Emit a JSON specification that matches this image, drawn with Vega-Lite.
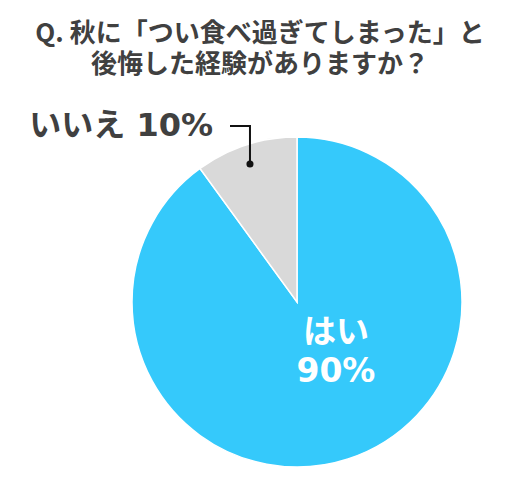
{
  "$schema": "https://vega.github.io/schema/vega-lite/v6.json",
  "width": 330,
  "height": 330,
  "autosize": "none",
  "padding": {"left": 132, "top": 137, "right": 55, "bottom": 10},
  "background": "white",
  "config": {"view": {"stroke": null}, "font": "Noto Sans CJK JP"},
  "title": {
    "text": ["Q. 秋に「つい食べ過ぎてしまった」と", "後悔した経験がありますか？"],
    "anchor": "middle",
    "frame": "group",
    "dx": -37,
    "dy": -28,
    "fontSize": 26,
    "lineHeight": 31,
    "font": "Noto Sans CJK JP",
    "fontWeight": "bold",
    "color": "#404040"
  },
  "layer": [
    {
      "data": {"values": [
        {"answer": "はい", "pct": 90, "order": 1},
        {"answer": "いいえ", "pct": 10, "order": 2}
      ]},
      "mark": {"type": "arc", "stroke": "white", "strokeWidth": 1.5},
      "encoding": {
        "theta": {"field": "pct", "type": "quantitative", "stack": true},
        "order": {"field": "order"},
        "color": {
          "field": "answer", "type": "nominal",
          "scale": {"domain": ["はい", "いいえ"], "range": ["#35C9FB", "#D9D9D9"]},
          "legend": null
        }
      }
    },
    {
      "data": {"values": [
        {"px": -0.406, "py": 1.067, "k": 1},
        {"px": -0.285, "py": 1.067, "k": 2},
        {"px": -0.285, "py": 0.836, "k": 3}
      ]},
      "mark": {"type": "line", "color": "#111111", "strokeWidth": 2},
      "encoding": {
        "x": {"field": "px", "type": "quantitative", "scale": {"domain": [-1, 1]}, "axis": null},
        "y": {"field": "py", "type": "quantitative", "scale": {"domain": [-1, 1]}, "axis": null},
        "order": {"field": "k"}
      }
    },
    {
      "data": {"values": [{"px": -0.285, "py": 0.836}]},
      "mark": {"type": "point", "filled": true, "color": "#111111", "size": 50, "opacity": 1},
      "encoding": {
        "x": {"field": "px", "type": "quantitative"},
        "y": {"field": "py", "type": "quantitative"}
      }
    },
    {
      "data": {"values": [{"label": "いいえ 10%", "px": -0.509, "py": 1.067}]},
      "mark": {"type": "text", "align": "right", "baseline": "middle", "fontSize": 32, "fontWeight": "bold", "color": "#404040", "font": "DejaVu Sans, Noto Sans CJK JP"},
      "encoding": {
        "x": {"field": "px", "type": "quantitative"},
        "y": {"field": "py", "type": "quantitative"},
        "text": {"field": "label"}
      }
    },
    {
      "data": {"values": [{"label": "はい\n90%", "px": 0.236, "py": -0.185}]},
      "mark": {"type": "text", "align": "center", "baseline": "middle", "lineBreak": "\n", "lineHeight": 39, "fontSize": 33, "fontWeight": "bold", "color": "white", "font": "DejaVu Sans, Noto Sans CJK JP"},
      "encoding": {
        "x": {"field": "px", "type": "quantitative"},
        "y": {"field": "py", "type": "quantitative"},
        "text": {"field": "label"}
      }
    }
  ]
}
